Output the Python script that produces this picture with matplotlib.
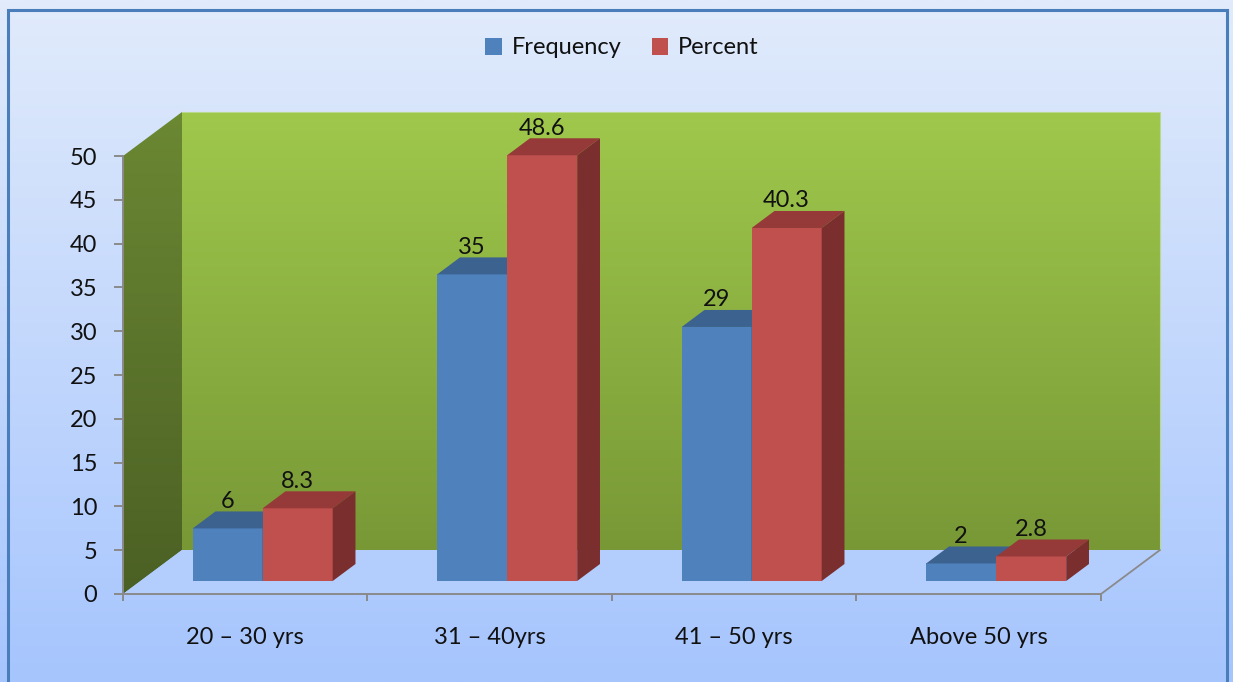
import numpy as np
import matplotlib
matplotlib.use("Agg")
import matplotlib.pyplot as plt
from matplotlib.patches import Polygon, Rectangle, Patch
from matplotlib.colors import LinearSegmentedColormap

# ---- data ----
categories = ["20 – 30 yrs", "31 – 40yrs", "41 – 50 yrs", "Above 50 yrs"]
frequency = [6, 35, 29, 2]
percent = [8.3, 48.6, 40.3, 2.8]
series_names = ["Frequency", "Percent"]
y_ticks = list(range(0, 55, 5))

# ---- style ----
FONT = "Lato"
FS = 17
TXT = "#111111"
BLUE = dict(front="#4F81BD", top="#3C6290", side="#2F4E74")
RED = dict(front="#C0504D", top="#953A38", side="#7A2E2D")
GRID_GREY = "#8A8A8A"

W, H = 1233, 682
fig = plt.figure(figsize=(W / 100, H / 100), dpi=100)

# figure background gradient and frame
bg = fig.add_axes([0, 0, 1, 1], zorder=-10)
bg.imshow(np.linspace(0, 1, 256).reshape(-1, 1),
          cmap=LinearSegmentedColormap.from_list("bg", ["#E1EBFB", "#A6C5FE"]),
          aspect="auto", extent=[0, 1, 0, 1], origin="upper")
bg.set_xlim(0, 1)
bg.set_ylim(0, 1)
bg.axis("off")
bg.add_patch(Rectangle((8 / W, -0.02), 1219 / W, 1 - 10 / H + 0.02,
                       fill=False, ec="#4A7EBB", lw=2.2))

# ---- main axes: full figure, front plane mapped so 4 categories x 0..50 ----
n = len(categories)
ymax = 50
PX_X0, PX_X1 = 123, 1101      # front axis span in pixels
PX_Y0, PX_Y50 = 594, 156      # value 0 and 50 (from top)
cat_px = (PX_X1 - PX_X0) / n
unit_px = (PX_Y0 - PX_Y50) / ymax

ax = fig.add_axes([0, 0, 1, 1])
ax.patch.set_visible(False)
xlim = (-PX_X0 / cat_px, (W - PX_X0) / cat_px)
ylim = (-(H - PX_Y0) / unit_px, PX_Y0 / unit_px)

# depth of floor/walls and bars (pixel offsets converted to data units)
DX, DY = 59 / cat_px, 44 / unit_px
f_front, f_depth = 13 / 44, 17 / 44
bar_w = 70 / cat_px


def gradient_poly(verts, c_top, c_bot, z):
    poly = Polygon(verts, closed=True, fc="none", ec="none", zorder=z)
    ax.add_patch(poly)
    xs = [v[0] for v in verts]
    ys = [v[1] for v in verts]
    im = ax.imshow(np.linspace(0, 1, 256).reshape(-1, 1),
                   cmap=LinearSegmentedColormap.from_list("", [c_bot, c_top]),
                   origin="lower", aspect="auto", interpolation="bicubic",
                   extent=[min(xs), max(xs), min(ys), max(ys)], zorder=z)
    im.set_clip_path(poly)
    return poly


# floor
ax.add_patch(Polygon([(0, 0), (n, 0), (n + DX, DY), (DX, DY)],
                     closed=True, fc="#B3CDFD", ec="none", zorder=0.5))
ax.plot([n, n + DX], [0, DY], color=GRID_GREY, lw=1.3, zorder=0.6,
        solid_capstyle="round")
# back wall
gradient_poly([(DX, DY), (n + DX, DY), (n + DX, ymax + DY), (DX, ymax + DY)],
              "#9FC84C", "#789836", 0.3)
ax.plot([DX, n + DX, n + DX], [ymax + DY, ymax + DY, DY],
        color="#B9D98E", lw=0.8, zorder=0.4)
# side wall
gradient_poly([(0, 0), (DX, DY), (DX, ymax + DY), (0, ymax)],
              "#6B8833", "#4B6024", 0.4)

# ---- bars with faux depth ----
x_centers = np.arange(n) + 0.5
for s, (vals, col) in enumerate([(frequency, BLUE), (percent, RED)]):
    lefts = x_centers - bar_w + s * bar_w + f_front * DX
    base = f_front * DY
    ax.bar(lefts, vals, width=bar_w, bottom=base, align="edge",
           color=col["front"], edgecolor="none", zorder=3 + s)
    ddx, ddy = f_depth * DX, f_depth * DY
    for x0, v in zip(lefts, vals):
        top = base + v
        ax.add_patch(Polygon([(x0, top), (x0 + bar_w, top),
                              (x0 + bar_w + ddx, top + ddy), (x0 + ddx, top + ddy)],
                             closed=True, fc=col["top"], ec="none", zorder=3 + s))
        ax.add_patch(Polygon([(x0 + bar_w, base), (x0 + bar_w + ddx, base + ddy),
                              (x0 + bar_w + ddx, top + ddy), (x0 + bar_w, top)],
                             closed=True, fc=col["side"], ec="none", zorder=3 + s))
        ax.annotate(f"{v:g}", (x0 + bar_w / 2, top + ddy), xytext=(0, 2.5),
                    textcoords="offset points", ha="center", va="baseline",
                    fontsize=FS, family=FONT, color=TXT, zorder=6)

# ---- axes lines, ticks, labels ----
ax.set_xlim(*xlim)
ax.set_ylim(*ylim)
for side in ("top", "right"):
    ax.spines[side].set_visible(False)
for side in ("left", "bottom"):
    ax.spines[side].set_position(("data", 0))
    ax.spines[side].set_color(GRID_GREY)
    ax.spines[side].set_linewidth(1.4)
    ax.spines[side].set_zorder(2)
ax.spines["left"].set_bounds(0, ymax)
ax.spines["bottom"].set_bounds(0, n)

ax.set_yticks(y_ticks)
ax.set_yticklabels([str(t) for t in y_ticks], fontsize=FS, family=FONT, color=TXT)
ax.tick_params(axis="y", direction="out", length=6.5, width=1.4, color=GRID_GREY,
               pad=12)
ax.set_xticks(np.arange(n + 1))
ax.set_xticklabels([])
ax.tick_params(axis="x", which="major", direction="out", length=5, width=1.4,
               color=GRID_GREY)
ax.set_xticks(x_centers, minor=True)
ax.set_xticklabels(categories, minor=True, fontsize=FS, family=FONT, color=TXT)
ax.tick_params(axis="x", which="minor", length=0, pad=24)

# legend
handles = [Patch(fc=BLUE["front"], ec="none"), Patch(fc=RED["front"], ec="none")]
fig.legend(handles, series_names, loc="center", bbox_to_anchor=(622 / W, 1 - 48 / H),
           ncol=2, frameon=False, handlelength=0.7, handleheight=0.7,
           handletextpad=0.4, columnspacing=1.3,
           prop=dict(family=FONT, size=FS), labelcolor=TXT)

fig.savefig("out.png", dpi=100)
